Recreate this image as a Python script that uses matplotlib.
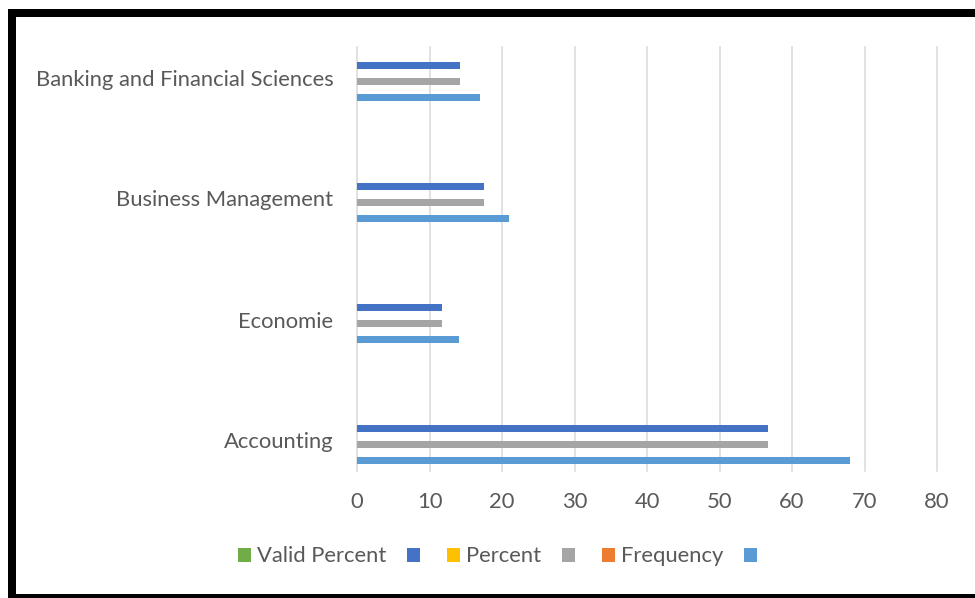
import matplotlib
matplotlib.use("Agg")
import matplotlib.pyplot as plt
import numpy as np
from matplotlib.patches import Rectangle

CATEGORIES = ["Accounting", "Economie", "Business Management",
              "Banking and Financial Sciences"]
FREQUENCY = [68, 14, 21, 17]
PERCENT = [56.7, 11.7, 17.5, 14.2]
VALID_PERCENT = [56.7, 11.7, 17.5, 14.2]
NO_DATA = [0, 0, 0, 0]

# legend order; the named series are empty in the source sheet
SERIES_NAMES = ["Valid Percent", "", "Percent", "", "Frequency", ""]
SERIES_VALUES = [NO_DATA, VALID_PERCENT, NO_DATA, PERCENT, NO_DATA, FREQUENCY]
COLORS = ["#70AD47", "#4472C4", "#FFC000", "#A5A5A5", "#ED7D31", "#5B9BD5"]

TEXT_COLOR = "#595959"
FONT_SIZE = 15.8


def main():
    plt.rcParams["font.family"] = "Lato"
    W, H = 975, 598
    fig = plt.figure(figsize=(W / 100, H / 100), dpi=100)
    ax = fig.add_axes([357 / W, 1 - 471 / H, 580 / W, 424 / H])

    y = np.arange(len(CATEGORIES))
    slot = 8 / 121
    n = len(SERIES_NAMES)
    handles = []
    for i, (name, vals, color) in enumerate(zip(SERIES_NAMES, SERIES_VALUES, COLORS)):
        k = n - 1 - i  # first legend entry sits at the top of each group
        bars = ax.barh(y + (k - (n - 1) / 2) * slot, vals, height=slot * 0.94,
                       color=color, zorder=3)
        handles.append(bars)

    ax.set_xlim(0, 80)
    ax.set_ylim(-30.5 / 121, 3 + 30.5 / 121)
    ax.set_xticks(np.arange(0, 81, 10))
    ax.set_yticks(y, CATEGORIES)
    ax.grid(axis="x", color="#D9D9D9", lw=1.1)
    ax.grid(axis="y", visible=False)
    for line in ax.get_xgridlines():
        line.set_clip_on(False)
    for s in ax.spines.values():
        s.set_visible(False)
    ax.tick_params(axis="both", length=0, labelsize=FONT_SIZE, colors=TEXT_COLOR)
    ax.tick_params(axis="x", pad=15)
    ax.tick_params(axis="y", pad=17)

    em = FONT_SIZE * 100 / 72
    ax.legend(handles, SERIES_NAMES, loc="center",
              bbox_to_anchor=(500.5 / W, 1 - 556.5 / H),
              bbox_transform=fig.transFigure, ncol=n, frameon=False,
              fontsize=FONT_SIZE, labelcolor=TEXT_COLOR, borderpad=0,
              handlelength=13 / em, handleheight=0.58,
              handletextpad=6 / em, columnspacing=21 / em)

    # black frame of the screenshot (right edge is cut off)
    fig.add_artist(Rectangle((12 / W, 0), 1.0, 1 - 12.5 / H,
                             transform=fig.transFigure, fill=False,
                             edgecolor="black", lw=8 * 0.72, clip_on=False))

    fig.savefig("out.png", dpi=100)


if __name__ == "__main__":
    main()
